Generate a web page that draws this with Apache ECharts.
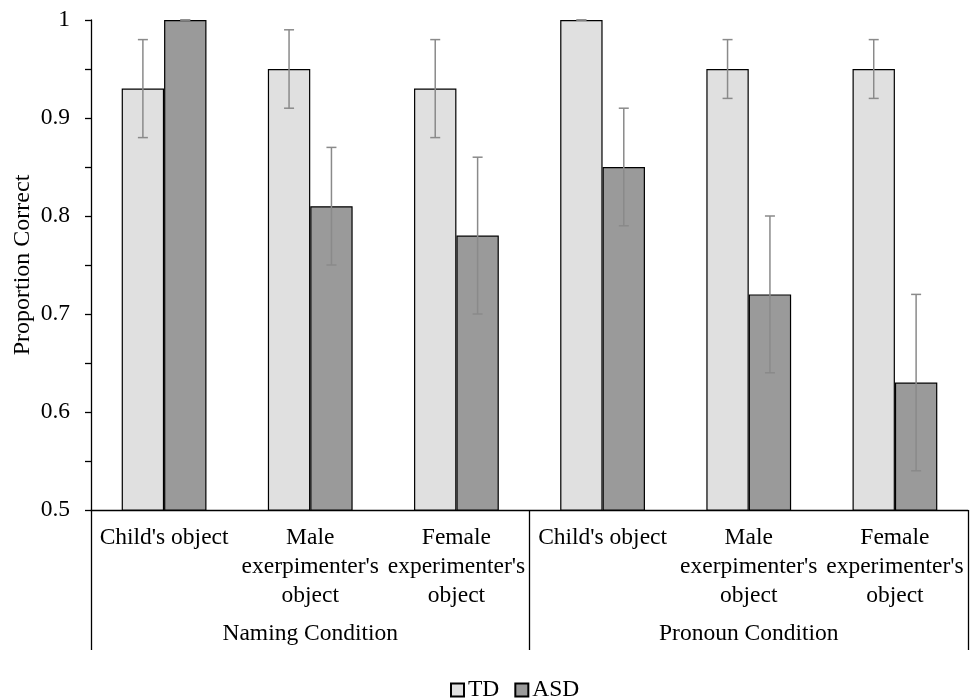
<!DOCTYPE html>
<html><head><meta charset="utf-8">
<script src="https://cdn.jsdelivr.net/npm/echarts@6/dist/echarts.min.js"></script>
<style>html,body{margin:0;padding:0;background:#fff}#c{width:977px;height:699px}</style>
</head><body><div id="c"></div>
<script>
const categories = ["Child's object", "Male\nexerpimenter's\nobject", "Female\nexperimenter's\nobject", "Child's object", "Male\nexerpimenter's\nobject", "Female\nexperimenter's\nobject"];
const groups = ["Naming Condition", "Pronoun Condition"];
const tdValues = [0.93, 0.95, 0.93, 1.00, 0.95, 0.95];
const tdErrors = [0.05, 0.04, 0.05, 0.00, 0.03, 0.03];
const asdValues = [1.00, 0.81, 0.78, 0.85, 0.72, 0.63];
const asdErrors = [0.00, 0.06, 0.08, 0.06, 0.08, 0.09];
const yTicks = [0.5, 0.6, 0.7, 0.8, 0.9, 1];

const FONT = "Liberation Serif";
const FS = 23.5;
const GAP = 0.42;

function errSeries(name, vals, errs, side) {
  return {
    type: 'custom', name: name + ' err', xAxisIndex: 0, yAxisIndex: 0, z: 5,
    silent: true, legendHoverLink: false,
    data: vals.map((v, i) => [i, v, errs[i]]),
    renderItem: function (params, api) {
      const i = api.value(0), v = api.value(1), e = api.value(2);
      const band = api.size([1, 0])[0];
      const bw = band * (1 - GAP) / 2;
      const c = api.coord([i, v]);
      const x = c[0] + side * bw / 2;
      const top = api.coord([i, v + e])[1];
      const bot = api.coord([i, v - e])[1];
      const cap = 5;
      const st = { stroke: '#8a8a8a', lineWidth: 1.5 };
      return { type: 'group', children: [
        { type: 'line', shape: { x1: x, y1: top, x2: x, y2: bot }, style: st },
        { type: 'line', shape: { x1: x - cap, y1: top, x2: x + cap, y2: top }, style: st },
        { type: 'line', shape: { x1: x - cap, y1: bot, x2: x + cap, y2: bot }, style: st }
      ]};
    }
  };
}

const chart = echarts.init(document.getElementById('c'), null, { renderer: 'canvas' });
chart.setOption({
  animation: false,
  backgroundColor: '#fff',
  textStyle: { fontFamily: FONT, color: '#000' },
  grid: { left: 91, right: 9, top: 20, bottom: 189, containLabel: false, outerBoundsMode: 'none' },
  legend: {
    top: 673, left: 445, icon: 'rect', itemWidth: 13, itemHeight: 13, itemGap: 15,
    data: ['TD', 'ASD'],
    textStyle: { fontFamily: FONT, fontSize: FS, color: '#000', padding: [0, 0, 0, -1] }
  },
  xAxis: [
    {
      type: 'category', data: categories, position: 'bottom',
      axisLine: { show: true, lineStyle: { color: '#000', width: 1.3 } },
      axisTick: { show: false },
      axisLabel: { interval: 0, fontFamily: FONT, fontSize: FS, color: '#000', lineHeight: 29, margin: 13 }
    },
    {
      type: 'category', data: groups, position: 'bottom', offset: 140,
      axisLine: { show: false },
      axisTick: { show: true, inside: true, length: 140, lineStyle: { color: '#000', width: 1.3 } },
      axisLabel: { inside: true, interval: 0, fontFamily: FONT, fontSize: FS, color: '#000', margin: 4 }
    }
  ],
  yAxis: {
    type: 'value', min: 0.5, max: 1, interval: 0.1,
    name: 'Proportion Correct', nameLocation: 'middle', nameRotate: 90, nameGap: 56,
    nameMoveOverlap: false,
    nameTextStyle: { fontFamily: FONT, fontSize: 24, color: '#000' },
    axisLine: { show: true, lineStyle: { color: '#000', width: 1.3 } },
    axisTick: { show: true, length: 6, lineStyle: { color: '#000', width: 1.3 } },
    minorTick: { show: true, splitNumber: 2, length: 6, lineStyle: { color: '#000', width: 1.3 } },
    splitLine: { show: false },
    axisLabel: { fontFamily: FONT, fontSize: FS, color: '#000', margin: 21,
      formatter: v => { const t = yTicks.find(k => Math.abs(k - v) < 1e-9); return t === undefined ? '' : String(t); } }
  },
  series: [
    { name: 'TD', type: 'bar', data: tdValues, barGap: '0%', barCategoryGap: (GAP * 100) + '%',
      itemStyle: { color: '#e0e0e0', borderColor: '#000', borderWidth: 1.2 } },
    { name: 'ASD', type: 'bar', data: asdValues, barGap: '0%', barCategoryGap: (GAP * 100) + '%',
      itemStyle: { color: '#9a9a9a', borderColor: '#000', borderWidth: 1.2 } },
    errSeries('TD', tdValues, tdErrors, -1),
    errSeries('ASD', asdValues, asdErrors, 1)
  ]
});
</script></body></html>
